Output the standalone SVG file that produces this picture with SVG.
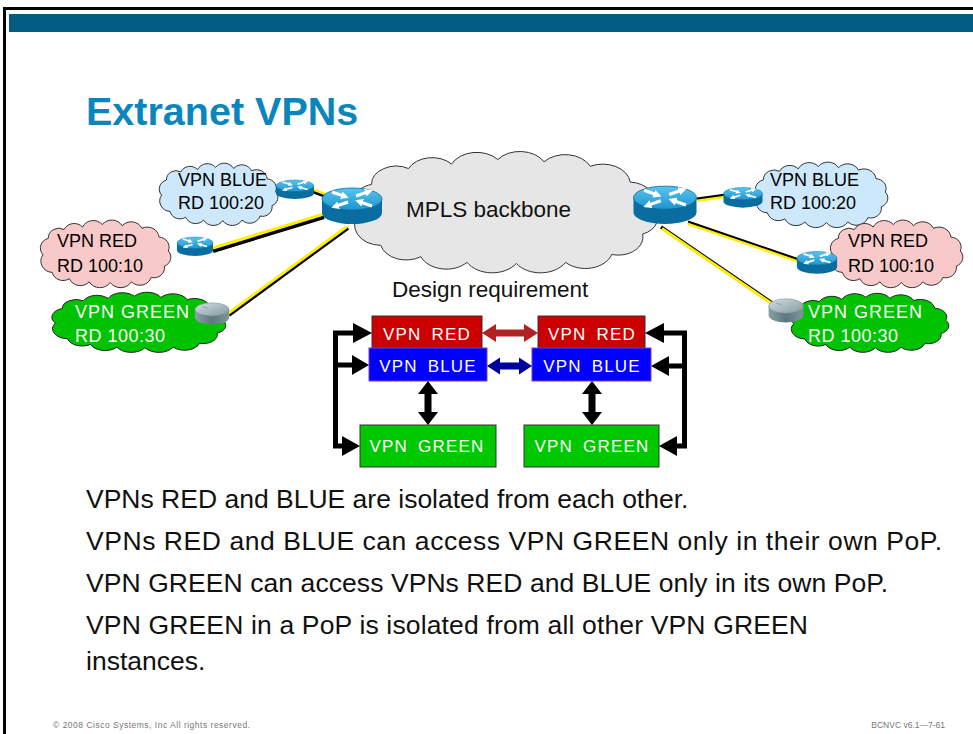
<svg xmlns="http://www.w3.org/2000/svg" xmlns:xlink="http://www.w3.org/1999/xlink" width="973" height="734" viewBox="0 0 973 734">
  <style>
    text { font-family: "Liberation Sans", Arial, sans-serif; }
    .cl-blue { fill: #cce8fa; stroke: #333; }
    .cl-red { fill: #f8c9c9; stroke: #333; }
    .cl-green { fill: #00c200; stroke: #222; }
    .cl-mpls { fill: #e6e6e6; stroke: #333; }
    .lbl { font-size: 18px; fill: #000; }
    .lbl-w { font-size: 18px; fill: #fff; }
    .box-t { font-size: 17px; fill: #fff; letter-spacing: 1.2px; word-spacing: 4px; text-anchor: middle; }
    .body { font-size: 26.5px; fill: #111; }
    .ylw { stroke: #ffee00; fill: none; }
    .blk { stroke: #000; fill: none; }
  </style>
  <defs>
    <path id="cloud" vector-effect="non-scaling-stroke" stroke-width="1" d="M6,52 A16,16 0 0 1 14,26 A16,16 0 0 1 38,12 A17,17 0 0 1 66,8 A18,18 0 0 1 96,4 A18,18 0 0 1 126,6 A18,18 0 0 1 156,10 A18,18 0 0 1 182,24 A16,16 0 0 1 196,46 A15,15 0 0 1 190,70 A16,16 0 0 1 170,88 A18,18 0 0 1 140,95 A19,19 0 0 1 108,96 A19,19 0 0 1 76,95 A18,18 0 0 1 46,90 A17,17 0 0 1 20,80 A18,18 0 0 1 6,52 Z"/>
    <linearGradient id="topBlue" x1="0" y1="0" x2="0" y2="1">
      <stop offset="0" stop-color="#5cc4ee"/>
      <stop offset="1" stop-color="#1b95cf"/>
    </linearGradient>
    <linearGradient id="topGray" x1="0" y1="0" x2="1" y2="1">
      <stop offset="0" stop-color="#d4e0e2"/>
      <stop offset="1" stop-color="#7f989e"/>
    </linearGradient>
    <linearGradient id="sideGray" x1="0" y1="0" x2="1" y2="0">
      <stop offset="0" stop-color="#8aa2a7"/>
      <stop offset="0.5" stop-color="#5d777d"/>
      <stop offset="1" stop-color="#7f969b"/>
    </linearGradient>
    <marker id="wh" viewBox="0 0 10 10" refX="5" refY="5" markerWidth="2.6" markerHeight="2.6" orient="auto">
      <path d="M0,0 L10,5 L0,10 Z" fill="#fff"/>
    </marker>
    <!-- router: cylinder with crossed arrows on the lid -->
    <g id="rtr">
      <path d="M-30,-6 V8 A30,11 0 0 0 30,8 V-6 Z" fill="#0a6d9f"/>
      <ellipse cx="0" cy="-6" rx="30" ry="11" fill="url(#topBlue)" stroke="#0a6d9f" stroke-width="0.8"/>
      <g stroke="#fff" stroke-width="3" fill="none" marker-end="url(#wh)">
        <line x1="-20" y1="-13" x2="-7" y2="-8.5"/>
        <line x1="20" y1="1" x2="7" y2="-3.5"/>
        <line x1="4" y1="-9" x2="17" y2="-13.5"/>
        <line x1="-4" y1="-3" x2="-17" y2="1.5"/>
      </g>
    </g>
    <g id="rtrg">
      <path d="M-30,-6 V8 A30,11 0 0 0 30,8 V-6 Z" fill="url(#sideGray)"/>
      <ellipse cx="0" cy="-6" rx="30" ry="11" fill="url(#topGray)" stroke="#6f878c" stroke-width="0.8"/>
      <g stroke="#9fb3b7" stroke-width="2.5" fill="none">
        <line x1="-18" y1="-11" x2="-6" y2="-7.5"/>
        <line x1="18" y1="-1" x2="6" y2="-4.5"/>
      </g>
    </g>
  </defs>

  <rect width="973" height="734" fill="#fff"/>

  <!-- slide frame and header band -->
  <rect x="3" y="7" width="970" height="3" fill="#000"/>
  <rect x="3" y="7" width="3" height="727" fill="#000"/>
  <rect x="9" y="14" width="964" height="18" fill="#035d83"/>

  <text x="86" y="125" font-size="39.5" font-weight="bold" fill="#0b86bd">Extranet VPNs</text>

  <!-- backbone cloud -->
  <g id="mpls">
    <use href="#cloud" class="cl-mpls" transform="translate(350,155) scale(1.54,1.13)"/>
    <text x="406" y="217" font-size="22.5" fill="#111">MPLS backbone</text>
  </g>

  <!-- customer site clouds -->
  <g id="site-blue-l">
    <use href="#cloud" class="cl-blue" transform="translate(158,165) scale(0.60,0.58)"/>
    <text class="lbl" x="178" y="186">VPN BLUE</text>
    <text class="lbl" x="178" y="209">RD 100:20</text>
  </g>
  <g id="site-red-l">
    <use href="#cloud" class="cl-red" transform="translate(39,222) scale(0.66,0.63)"/>
    <text class="lbl" x="57" y="247">VPN RED</text>
    <text class="lbl" x="57" y="272">RD 100:10</text>
  </g>
  <g id="site-green-l">
    <use href="#cloud" class="cl-green" transform="translate(50,294) scale(0.88,0.56)"/>
    <text class="lbl-w" x="75" y="318" letter-spacing="1">VPN GREEN</text>
    <text class="lbl-w" x="75" y="342" letter-spacing="0.5">RD 100:30</text>
  </g>
  <g id="site-blue-r">
    <use href="#cloud" class="cl-blue" transform="translate(754,164) scale(0.67,0.61)"/>
    <text class="lbl" x="770" y="186">VPN BLUE</text>
    <text class="lbl" x="770" y="209">RD 100:20</text>
  </g>
  <g id="site-red-r">
    <use href="#cloud" class="cl-red" transform="translate(829,222) scale(0.67,0.63)"/>
    <text class="lbl" x="848" y="247">VPN RED</text>
    <text class="lbl" x="848" y="272">RD 100:10</text>
  </g>
  <g id="site-green-r">
    <use href="#cloud" class="cl-green" transform="translate(789,295) scale(0.80,0.55)"/>
    <text class="lbl-w" x="808" y="318" letter-spacing="1">VPN GREEN</text>
    <text class="lbl-w" x="808" y="342" letter-spacing="0.5">RD 100:30</text>
  </g>

  <!-- access links: yellow with black edge -->
  <g id="links">
    <line class="blk" stroke-width="4" x1="312" y1="191" x2="328" y2="197"/>
    <line class="ylw" stroke-width="2.5" x1="312" y1="189" x2="328" y2="195"/>
    <line class="blk" stroke-width="4" x1="213" y1="251" x2="324" y2="217"/>
    <line class="ylw" stroke-width="3" x1="213" y1="248" x2="324" y2="214"/>
    <line class="blk" stroke-width="3.5" x1="229" y1="315" x2="348" y2="228"/>
    <line class="ylw" stroke-width="2.8" x1="228" y1="313.5" x2="347" y2="226.5"/>

    <line class="ylw" stroke-width="4" x1="697" y1="200" x2="726" y2="196"/>
    <line class="blk" stroke-width="2" x1="697" y1="198.5" x2="726" y2="194.5"/>
    <line class="ylw" stroke-width="4" x1="688" y1="223" x2="802" y2="262"/>
    <line class="blk" stroke-width="2" x1="688" y1="221.5" x2="802" y2="260.5"/>
    <line class="blk" stroke-width="3.5" x1="661" y1="227" x2="775" y2="305"/>
    <line class="ylw" stroke-width="2.8" x1="662" y1="228.5" x2="776" y2="306.5"/>
  </g>

  <!-- routers -->
  <g id="pe-l"><use href="#rtr" transform="translate(352,205)"/></g>
  <g id="pe-r"><use href="#rtr" transform="translate(665,204) scale(1.05)"/></g>
  <g id="ce-blue-l"><use href="#rtr" transform="translate(295,189) scale(0.63,0.53)"/></g>
  <g id="ce-red-l"><use href="#rtr" transform="translate(195,246) scale(0.6,0.53)"/></g>
  <g id="ce-green-l"><use href="#rtrg" transform="translate(212,313) scale(0.57,0.6)"/></g>
  <g id="ce-blue-r"><use href="#rtr" transform="translate(743,197) scale(0.65,0.56)"/></g>
  <g id="ce-red-r"><use href="#rtr" transform="translate(817,262) scale(0.67,0.62)"/></g>
  <g id="ce-green-r"><use href="#rtrg" transform="translate(786,310) scale(0.58,0.66)"/></g>

  <!-- design requirement -->
  <text x="392" y="297" font-size="22.5" fill="#111">Design requirement</text>

  <g id="req-red-l">
    <rect x="372" y="316" width="110" height="32" fill="#cc0000" stroke="#333" stroke-width="1"/>
    <text class="box-t" x="427" y="340">VPN RED</text>
  </g>
  <g id="req-red-r">
    <rect x="538" y="316" width="107" height="32" fill="#cc0000" stroke="#333" stroke-width="1"/>
    <text class="box-t" x="592" y="340">VPN RED</text>
  </g>
  <g id="req-blue-l">
    <rect x="369" y="348" width="118" height="33" fill="#0000ff" stroke="#7a3cc8" stroke-width="1"/>
    <text class="box-t" x="428" y="372">VPN BLUE</text>
  </g>
  <g id="req-blue-r">
    <rect x="532" y="348" width="119" height="33" fill="#0000ff" stroke="#7a3cc8" stroke-width="1"/>
    <text class="box-t" x="592" y="372">VPN BLUE</text>
  </g>
  <g id="req-green-l">
    <rect x="360" y="425" width="136" height="42" fill="#00c800" stroke="#333" stroke-width="1"/>
    <text class="box-t" x="427" y="452">VPN GREEN</text>
  </g>
  <g id="req-green-r">
    <rect x="524" y="425" width="135" height="42" fill="#00c800" stroke="#333" stroke-width="1"/>
    <text class="box-t" x="592" y="452">VPN GREEN</text>
  </g>

  <g id="req-arrows">
    <path d="M482,333 L496,324 L496,329.5 L524,329.5 L524,324 L538,333 L524,342 L524,336.5 L496,336.5 L496,342 Z" fill="#b22222"/>
    <path d="M487,366 L500,357.5 L500,362.5 L519,362.5 L519,357.5 L532,366 L519,374.5 L519,369.5 L500,369.5 L500,374.5 Z" fill="#00009c"/>
    <path d="M428,381 L438,394 L431.5,394 L431.5,412 L438,412 L428,425 L418,412 L424.5,412 L424.5,394 L418,394 Z" fill="#000"/>
    <path d="M592,381 L602,394 L595.5,394 L595.5,412 L602,412 L592,425 L582,412 L588.5,412 L588.5,394 L582,394 Z" fill="#000"/>

    <path d="M356,333 H335.5 V446 H345 M335.5,365 H353" fill="none" stroke="#000" stroke-width="5"/>
    <polygon points="372,333 353,323 353,343" fill="#000"/>
    <polygon points="369,365 352,355 352,375" fill="#000"/>
    <polygon points="360,446 342,436 342,456" fill="#000"/>

    <path d="M662,333 H684.5 V446 H676 M684.5,366 H668" fill="none" stroke="#000" stroke-width="5"/>
    <polygon points="645,333 664,323 664,343" fill="#000"/>
    <polygon points="651,366 669,356 669,376" fill="#000"/>
    <polygon points="659,446 677,436 677,456" fill="#000"/>
  </g>

  <!-- notes -->
  <text class="body" x="86" y="508">VPNs RED and BLUE are isolated from each other.</text>
  <text class="body" x="86" y="550" textLength="856">VPNs RED and BLUE can access VPN GREEN only in their own PoP.</text>
  <text class="body" x="86" y="592" textLength="802">VPN GREEN can access VPNs RED and BLUE only in its own PoP.</text>
  <text class="body" x="86" y="634" textLength="722">VPN GREEN in a PoP is isolated from all other VPN GREEN</text>
  <text class="body" x="86" y="670">instances.</text>

  <!-- footer -->
  <text x="53" y="728" font-size="8.5" fill="#777" textLength="197">© 2008 Cisco Systems, Inc All rights reserved.</text>
  <text x="945" y="728" font-size="8.5" fill="#777" text-anchor="end">BCNVC v6.1—7-61</text>
</svg>
